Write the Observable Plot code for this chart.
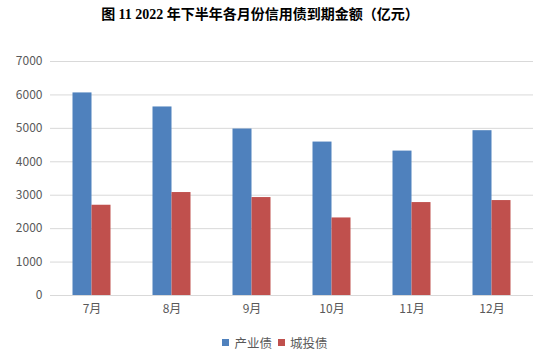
<!DOCTYPE html>
<html><head><meta charset="utf-8">
<script src="https://cdn.jsdelivr.net/npm/d3@7"></script>
<script src="https://cdn.jsdelivr.net/npm/@observablehq/plot@0.6"></script>
<style>
body{margin:0;background:#fff;width:550px;}
#title{height:30px;line-height:30px;text-align:center;padding-right:30px;font-family:"Liberation Serif","Noto Sans CJK SC",serif;font-weight:bold;font-size:14px;color:#000;}
#chart svg{display:block;}
#legend{height:24px;display:flex;justify-content:center;align-items:center;font-family:"Noto Sans CJK SC",sans-serif;font-size:12.5px;color:#595959;}
#legend .item{display:flex;align-items:center;margin:0 3px;}
#legend .sw{width:7px;height:7px;margin-right:5px;}
</style></head><body>
<div id="title">图 11 2022 年下半年各月份信用债到期金额（亿元）</div>
<div id="chart"></div>
<div id="legend"></div>
<script>
const months = ["7月","8月","9月","10月","11月","12月"];
const seriesNames = ["产业债","城投债"];
const industryValues = [6060,5640,4980,4590,4320,4930];
const urbanValues = [2700,3080,2930,2320,2780,2840];
const yTicks = [0,1000,2000,3000,4000,5000,6000,7000];
const colors = ["#4F81BD","#C0504D"];

const industryData = months.map((m,i)=>({month:m, series:seriesNames[0], value:industryValues[i]}));
const urbanData = months.map((m,i)=>({month:m, series:seriesNames[1], value:urbanValues[i]}));

const plot = Plot.plot({
  width:550, height:300,
  marginTop:31, marginBottom:35, marginLeft:50, marginRight:17,
  x:{domain:months, paddingInner:0.764, paddingOuter:0.382, label:null, tickSize:0, tickPadding:9},
  y:{domain:[0,7000], ticks:yTicks, tickFormat:"d", label:null, tickSize:0, tickPadding:8},
  color:{domain:seriesNames, range:colors},
  style:{fontFamily:"'Noto Sans CJK SC', sans-serif", fontSize:"12px", color:"#595959", background:"#fff"},
  marks:[
    Plot.ruleY(yTicks, {stroke:"#d9d9d9", strokeWidth:1}),
    Plot.barY(industryData, {x:"month", y:"value", fill:"series", dx:-9.5}),
    Plot.barY(urbanData, {x:"month", y:"value", fill:"series", dx:9.5}),
    Plot.ruleY([0], {stroke:"#d9d9d9", strokeWidth:1.2})
  ]
});
document.getElementById("chart").appendChild(plot);

const legend = document.getElementById("legend");
seriesNames.forEach((s,i)=>{
  const it = document.createElement("div"); it.className="item";
  const sw = document.createElement("div"); sw.className="sw"; sw.style.background=colors[i];
  const t = document.createElement("span"); t.textContent=s;
  it.appendChild(sw); it.appendChild(t); legend.appendChild(it);
});
</script>
</body></html>
